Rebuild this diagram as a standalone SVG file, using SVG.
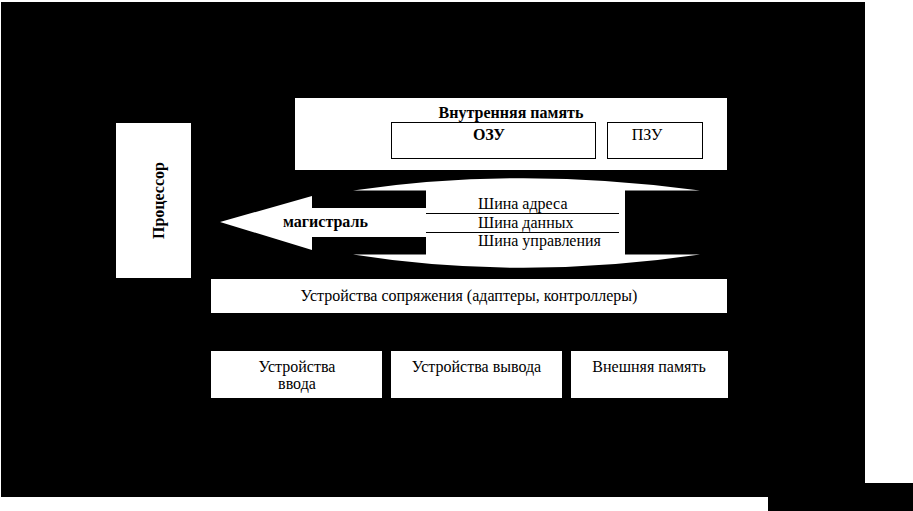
<svg xmlns="http://www.w3.org/2000/svg" width="913" height="511" viewBox="0 0 913 511">
<style>
.box{fill:#fff}
.inner{fill:#fff;stroke:#000;stroke-width:1}
.t{font-family:"Liberation Serif","Times New Roman",serif;font-size:16px;fill:#000}
.b{font-weight:bold}
.sep{stroke:#000;stroke-width:1}
</style>
<rect x="0" y="0" width="913" height="511" fill="#fff"/>
<rect x="1" y="2" width="864" height="495" fill="#000"/>
<rect x="768" y="483" width="145" height="28" fill="#000"/>

<g id="memory">
<rect class="box" x="295" y="98" width="432" height="72"/>
<text class="t b" x="511" y="118" text-anchor="middle">Внутренняя память</text>
</g>
<g id="ram">
<rect class="inner" x="391.5" y="122.5" width="204" height="36"/>
<text class="t b" x="489" y="140" text-anchor="middle">ОЗУ</text>
</g>
<g id="rom">
<rect class="inner" x="607.5" y="122.5" width="95" height="36"/>
<text class="t" x="647" y="140" text-anchor="middle">ПЗУ</text>
</g>

<g id="cpu">
<rect class="box" x="116" y="123" width="75" height="155"/>
<text class="t b" transform="translate(164 200.5) rotate(-90)" text-anchor="middle">Процессор</text>
</g>

<g id="connectors">
<path class="box" d="M353,190.5 Q520,166 700,190.5 Z"/>
<path class="box" d="M353,254.5 Q520,281 700,254.5 Z"/>
<polygon class="box" points="220,222 312,196 312,208 427,208 427,237 312,237 312,250"/>
</g>

<g id="bus">
<rect class="box" x="426" y="189" width="199" height="67"/>
<line class="sep" x1="426" y1="213.5" x2="619" y2="213.5"/>
<line class="sep" x1="426" y1="232.5" x2="619" y2="232.5"/>
<text class="t" x="478" y="209">Шина адреса</text>
<text class="t" x="478" y="227.5">Шина данных</text>
<text class="t" x="478" y="246">Шина управления</text>
<text class="t b" x="283" y="227">магистраль</text>
</g>

<g id="adapters">
<rect class="box" x="211" y="279" width="516" height="34"/>
<text class="t" x="469" y="301" text-anchor="middle">Устройства сопряжения (адаптеры, контроллеры)</text>
</g>

<g id="input">
<rect class="box" x="211" y="351" width="171" height="47"/>
<text class="t" x="297" y="371.5" text-anchor="middle">Устройства</text>
<text class="t" x="297" y="388.5" text-anchor="middle">ввода</text>
</g>
<g id="output">
<rect class="box" x="391" y="351" width="171" height="47"/>
<text class="t" x="476.5" y="371.5" text-anchor="middle">Устройства вывода</text>
</g>
<g id="external">
<rect class="box" x="571" y="351" width="157" height="47"/>
<text class="t" x="649" y="371.5" text-anchor="middle">Внешняя память</text>
</g>
</svg>
